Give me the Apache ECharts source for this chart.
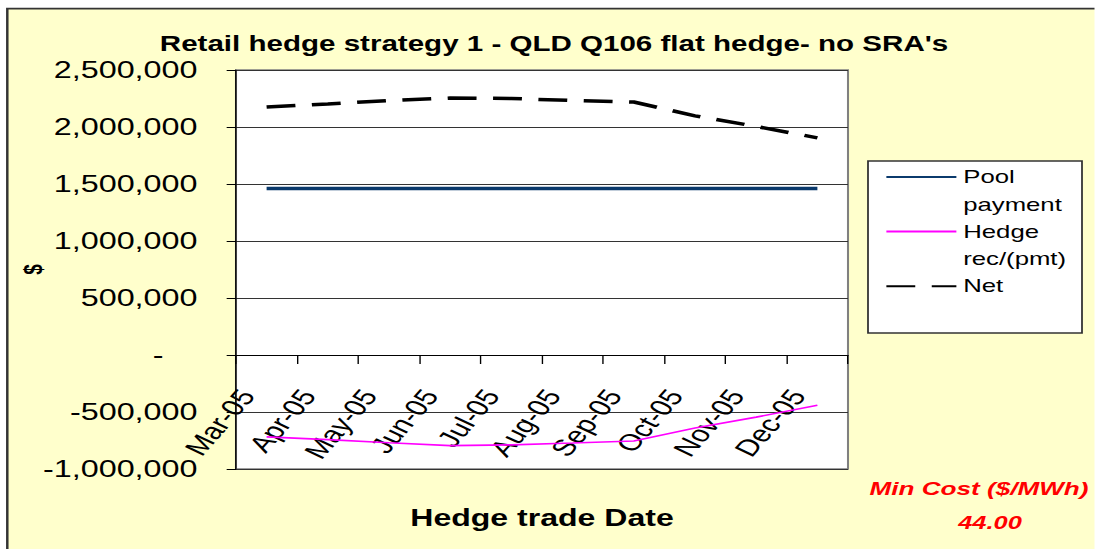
<!DOCTYPE html>
<html>
<head>
<meta charset="utf-8">
<title>Retail hedge strategy 1 - QLD Q106 flat hedge- no SRA's</title>
<script src="https://cdn.jsdelivr.net/npm/echarts@6/dist/echarts.min.js"></script>
<style>
  html, body { margin: 0; padding: 0; background: #ffffff; overflow: hidden; }
  /* The chart is laid out on a narrower canvas and widened, which gives the
     broad lettering of the original spreadsheet chart. */
  #chart { position: absolute; left: 0; top: 0; height: 549px; transform-origin: 0 0; }
</style>
</head>
<body>
<div id="chart"></div>
<script>
// ---- data ----
const months = ['Mar-05', 'Apr-05', 'May-05', 'Jun-05', 'Jul-05', 'Aug-05', 'Sep-05', 'Oct-05', 'Nov-05', 'Dec-05'];
const poolPayment = [1460000, 1460000, 1460000, 1460000, 1460000, 1460000, 1460000, 1460000, 1460000, 1460000];
const hedgeRecPmt = [-718000, -742000, -770000, -795000, -788000, -772000, -755000, -640000, -545000, -440000];
const netCost = [2175000, 2202000, 2232000, 2254000, 2250000, 2232000, 2219000, 2098000, 2005000, 1905000];
const yTicks = [-1000000, -500000, 0, 500000, 1000000, 1500000, 2000000, 2500000];
const minCostLabel = 'Min Cost ($/MWh)';
const minCostValue = '44.00';

// ---- layout ----
const SX = 1.375;                 // horizontal widening of the whole drawing
const W = 1095 / SX;
const X = px => px / SX;          // page x -> chart x
const FONT = '"Liberation Sans", Arial, Helvetica, sans-serif';

const el = document.getElementById('chart');
el.style.width = W + 'px';
el.style.transform = 'scaleX(' + SX + ')';

const chart = echarts.init(el, null, { renderer: 'svg', width: W, height: 549 });

const plot = { left: X(236), right: X(848), top: 70, bottom: 469 };
const lh = 27.3;                  // legend line height
const legendFirstRow = 177;       // centre of the first legend row

// the category axis runs along the zero line of the value axis
const yMin = yTicks[0], yMax = yTicks[yTicks.length - 1];
const zeroLift = (plot.bottom - plot.top) * (0 - yMin) / (yMax - yMin);

// legend rows: each entry is three lines tall so its key sits on the first word
const legendText = name => name === 'Net' ? ' \nNet\n ' : ' \n' + name.replace(' ', '\n');

const option = {
  backgroundColor: 'transparent',
  animation: false,
  textStyle: { fontFamily: FONT },
  title: {
    text: "Retail hedge strategy 1 - QLD Q106 flat hedge- no SRA's",
    left: X(554),
    top: 33,
    textAlign: 'center',
    padding: 0,
    textStyle: { fontFamily: FONT, fontSize: 21.5, fontWeight: 'bold', color: '#000' }
  },
  graphic: {
    elements: [
      {
        type: 'rect', z: -10, silent: true,
        shape: { x: X(7.3), y: 8.7, width: 1000, height: 700 },
        style: { fill: '#FFFFCC', stroke: '#333333', lineWidth: 1.8 }
      },
      {
        type: 'rect', z: 1, silent: true,
        shape: { x: X(868), y: 161, width: X(1082) - X(868), height: 172 },
        style: { fill: '#ffffff', stroke: '#333333', lineWidth: 1.3 }
      },
      {
        type: 'text', z: 5, x: X(979), y: 488,
        style: { text: minCostLabel, fill: '#FF0000', font: 'italic bold 19px ' + FONT, align: 'center', verticalAlign: 'middle' }
      },
      {
        type: 'text', z: 5, x: X(990), y: 523,
        style: { text: minCostValue, fill: '#FF0000', font: 'italic bold 18.5px ' + FONT, align: 'center', verticalAlign: 'middle' }
      }
    ]
  },
  legend: {
    orient: 'vertical',
    left: X(885),
    top: legendFirstRow - lh * 1.5,
    padding: 0,
    itemGap: -lh,
    itemWidth: X(955) - X(885),
    itemHeight: 14,
    selectedMode: false,
    itemStyle: { opacity: 0 },
    formatter: legendText,
    textStyle: { fontFamily: FONT, fontSize: 18.7, lineHeight: lh, color: '#000' },
    data: ['Pool payment', 'Hedge rec/(pmt)', 'Net']
  },
  grid: {
    left: plot.left,
    top: plot.top,
    width: plot.right - plot.left,
    height: plot.bottom - plot.top,
    show: true,
    backgroundColor: '#ffffff',
    borderColor: '#808080',
    borderWidth: 1.5,
    containLabel: false,
    outerBoundsMode: 'none'
  },
  xAxis: {
    type: 'category',
    data: months,
    boundaryGap: true,
    position: 'bottom',
    offset: -zeroLift,
    name: 'Hedge trade Date',
    nameLocation: 'middle',
    nameGap: 152,
    nameMoveOverlap: false,
    nameTextStyle: { fontFamily: FONT, fontSize: 23.3, fontWeight: 'bold', color: '#000' },
    axisLine: { onZero: false, lineStyle: { color: '#000', width: 1 } },
    axisTick: { show: true, interval: 0, length: 9, alignWithLabel: false, lineStyle: { color: '#000', width: 1 } },
    axisLabel: {
      interval: 0,
      rotate: 57,
      margin: 15,
      padding: [0, 26, 0, 0],
      fontFamily: FONT,
      fontSize: 23,
      color: '#000'
    },
    splitLine: { show: false }
  },
  yAxis: {
    type: 'value',
    min: yMin,
    max: yMax,
    interval: yTicks[1] - yTicks[0],
    name: '$',
    nameLocation: 'middle',
    nameRotate: 90,
    nameGap: 138,
    nameMoveOverlap: false,
    nameTextStyle: { fontFamily: FONT, fontSize: 19, fontWeight: 'bold', color: '#000' },
    axisLine: { show: true, lineStyle: { color: '#000', width: 1 } },
    axisTick: { show: true, length: 6.8, lineStyle: { color: '#000', width: 1 } },
    axisLabel: {
      margin: 28,
      fontFamily: FONT,
      fontSize: 23.5,
      color: '#000',
      formatter: v => v === 0 ? '{z|-}' : v.toLocaleString('en-US'),
      rich: { z: { fontFamily: FONT, fontSize: 23.5, color: '#000', padding: [0, X(34), 0, 0] } }
    },
    splitLine: { show: true, lineStyle: { color: '#333333', width: 1 } }
  },
  series: [
    {
      name: 'Pool payment',
      type: 'line',
      data: poolPayment,
      symbol: 'none',
      showSymbol: false,
      color: '#0B3A6C',
      lineStyle: { color: '#0B3A6C', width: 3.5 },
      z: 3
    },
    {
      name: 'Hedge rec/(pmt)',
      type: 'line',
      data: hedgeRecPmt,
      symbol: 'none',
      showSymbol: false,
      color: '#FF00FF',
      lineStyle: { color: '#FF00FF', width: 1.6 },
      z: 3
    },
    {
      name: 'Net',
      type: 'line',
      data: netCost,
      symbol: 'none',
      showSymbol: false,
      color: '#000000',
      lineStyle: { color: '#000000', width: 3.5, type: [21, 12], cap: 'butt' },
      z: 3
    }
  ]
};

chart.setOption(option);
</script>
</body>
</html>
